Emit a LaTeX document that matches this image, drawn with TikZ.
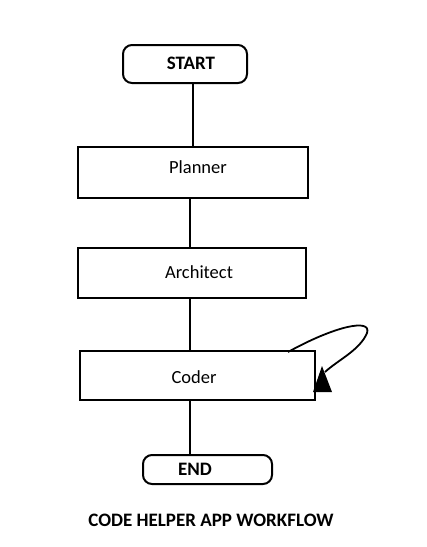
\documentclass[tikz,border=0pt]{standalone}
\usepackage{fontspec}
\setmainfont{Carlito}
\begin{document}
\begin{tikzpicture}[x=1pt,y=-1pt,
  box/.style={draw,line width=2pt,inner sep=0pt},
  term/.style={draw,line width=2pt,rounded corners=9pt,inner sep=0pt},
  lbl/.style={font=\fontsize{18.5}{20}\selectfont,inner sep=0pt},
  blbl/.style={font=\fontsize{19}{21}\selectfont\bfseries,inner sep=0pt},
  link/.style={line width=2pt}]
\useasboundingbox (0,0) rectangle (427,547);
\node[term,minimum width=124pt,minimum height=38pt] (start) at (185,64) {};
\node[blbl] (starttxt) at (191,63) {START};
\node[box,minimum width=230pt,minimum height=51pt] (planner) at (193,172.5) {};
\node[lbl] (plannertxt) at (198,167) {Planner};
\node[box,minimum width=228pt,minimum height=50pt] (architect) at (192,273) {};
\node[lbl] (architecttxt) at (199,272) {Architect};
\node[box,minimum width=235pt,minimum height=49pt] (coder) at (197.5,375.5) {};
\node[lbl] (codertxt) at (194,377) {Coder};
\node[term,minimum width=129pt,minimum height=29pt] (end) at (207.5,469.5) {};
\node[blbl] (endtxt) at (195,469) {END};
\node[blbl] (title) at (211,520) {CODE HELPER APP WORKFLOW};
\draw[link] (start.south -| 193,0) -- (planner.north -| 193,0);
\draw[link] (planner.south -| 190,0) -- (architect.north -| 190,0);
\draw[link] (architect.south -| 190,0) -- (coder.north -| 190,0);
\draw[link] (coder.south -| 190,0) -- (end.north -| 190,0);
\coordinate (loopa) at (288,352);
\coordinate (loopb) at (325,372);
\draw[line width=1.8pt] (loopa) .. controls (335,326) and (372,318) .. (367,333) .. controls (360,350) and (338,360) .. (loopb);
\fill (322,366) -- (332,392) -- (313,392) -- cycle;
\end{tikzpicture}
\end{document}
